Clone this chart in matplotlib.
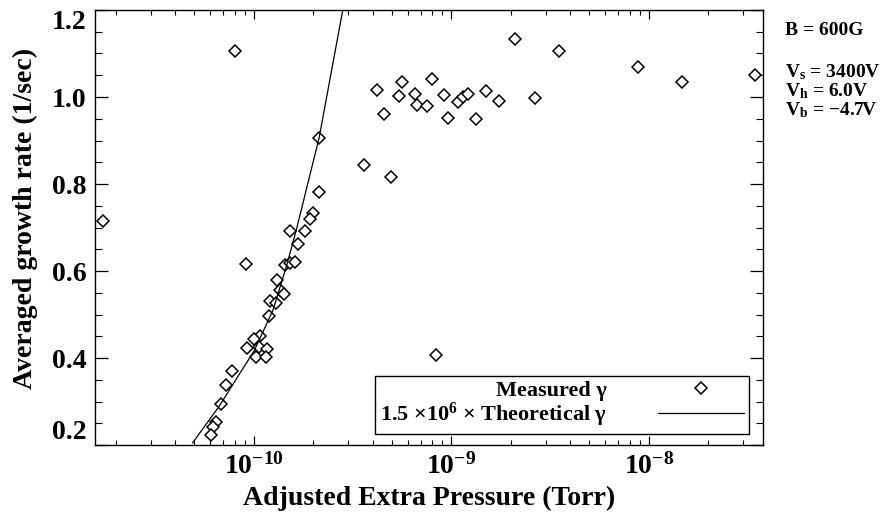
import numpy as np
import matplotlib
matplotlib.use("Agg")
import matplotlib.pyplot as plt
from matplotlib.ticker import FixedLocator, MultipleLocator, NullFormatter, FormatStrFormatter

plt.rcParams['font.family'] = ['Liberation Serif', 'DejaVu Serif']
plt.rcParams['font.weight'] = 'bold'
plt.rcParams['mathtext.fontset'] = 'custom'
plt.rcParams['mathtext.rm'] = 'Liberation Serif:bold'
plt.rcParams['mathtext.bf'] = 'Liberation Serif:bold'
plt.rcParams['mathtext.it'] = 'Liberation Serif:bold:italic'

# measured growth rate vs adjusted extra pressure
pressure = [1.73e-11, 8.02e-11, 2.14e-10, 2.14e-10, 1.995e-10, 1.92e-10, 1.52e-10,
            1.81e-10, 1.67e-10, 9.11e-11, 1.44e-10, 1.52e-10, 1.61e-10, 1.31e-10,
            1.35e-10, 1.42e-10, 1.21e-10, 1.29e-10, 1.19e-10, 1.08e-10, 1.0e-10,
            9.22e-11, 1.06e-10, 1.16e-10, 1.03e-10, 1.15e-10, 7.71e-11, 7.19e-11,
            6.79e-11, 6.46e-11, 6.22e-11, 6.04e-11, 2.11e-9, 4.21e-10, 5.62e-10,
            8.02e-10, 5.43e-10, 6.52e-10, 6.70e-10, 7.57e-10, 9.14e-10, 1.08e-9,
            1.15e-9, 1.21e-9, 1.49e-9, 1.75e-9, 2.64e-9, 4.56e-10, 9.61e-10,
            1.33e-9, 3.60e-10, 4.96e-10, 3.50e-9, 8.79e-9, 1.47e-8, 3.45e-8, 8.34e-10]
growth = [0.716, 1.106, 0.906, 0.781, 0.733, 0.719, 0.693,
          0.691, 0.662, 0.616, 0.614, 0.618, 0.621, 0.579,
          0.556, 0.546, 0.532, 0.526, 0.497, 0.451, 0.443,
          0.422, 0.426, 0.420, 0.403, 0.402, 0.369, 0.339,
          0.294, 0.253, 0.242, 0.223, 1.133, 1.016, 1.034,
          1.041, 1.003, 1.006, 0.982, 0.980, 1.005, 0.989,
          1.001, 1.007, 1.014, 0.991, 0.998, 0.962, 0.952,
          0.949, 0.844, 0.817, 1.106, 1.070, 1.034, 1.051, 0.407]

# scaled theoretical curve
theory_p = [4.9e-11, 6.7e-11, 8.5e-11, 1.0e-10, 1.25e-10, 1.46e-10, 1.64e-10, 2.14e-10, 2.9e-10]
theory_g = [0.205, 0.29, 0.365, 0.415, 0.51, 0.61, 0.694, 0.906, 1.23]

xticks = [1e-10, 1e-9, 1e-8]
yticks = [0.2, 0.4, 0.6, 0.8, 1.0, 1.2]

fig = plt.figure(figsize=(8.86, 5.18), dpi=100)
ax = fig.add_axes([0.1072, 0.1409, 0.7540, 0.8398])

ax.plot(pressure, growth, linestyle='none', marker='D', ms=6.2, mfc='white',
        mec='black', mew=1.1, label='Measured γ')
ax.plot(theory_p, theory_g, color='black', lw=0.9,
        label=r'1.5 ×10$^{6}$ × Theoretical γ')

ax.set_xscale('log')
ax.set_xlim(1.57e-11, 3.78e-8)
ax.set_ylim(0.2, 1.2)

ax.set_xticks(xticks)
ax.xaxis.set_minor_formatter(NullFormatter())
ax.yaxis.set_major_locator(FixedLocator(yticks))
ax.yaxis.set_minor_locator(MultipleLocator(0.05))
ax.yaxis.set_major_formatter(FormatStrFormatter('%.1f'))

ax.tick_params(axis='both', which='both', direction='in', top=True, right=True)
ax.tick_params(axis='y', which='major', length=9.5, width=0.9, labelsize=20, pad=6)
ax.tick_params(axis='y', which='minor', length=5, width=0.8)
ax.tick_params(axis='x', which='major', length=6.5, width=0.9, labelsize=20, pad=6)
ax.tick_params(axis='x', which='minor', length=3.5, width=0.8)
for sp in ax.spines.values():
    sp.set_linewidth(1.0)

labs = ax.get_yticklabels()
labs[0].set_verticalalignment('bottom')
labs[-1].set_verticalalignment('top')

ax.set_xlabel('Adjusted Extra Pressure (Torr)', fontsize=20, fontweight='bold')
ax.set_ylabel('Averaged growth rate (1/sec)', fontsize=20, fontweight='bold')
ax.yaxis.set_label_coords(-0.085, 0.52)
ax.xaxis.set_label_coords(0.5, -0.095)

leg = ax.legend(loc='lower right', bbox_to_anchor=(0.979, 0.025), markerfirst=False,
                fontsize=16, handlelength=3.87, frameon=True, fancybox=False,
                framealpha=1, edgecolor='black', borderpad=0.22, labelspacing=0.0,
                handletextpad=2.3, borderaxespad=0)
leg.get_frame().set_linewidth(1.0)

fig.text(785 / 886, 1 - 35 / 518, 'B = 600G', fontsize=14, fontweight='bold', va='baseline')
fig.text(785 / 886, 1 - 77 / 518, r'V$_\mathregular{s}$ = 3400V', fontsize=14, fontweight='bold', va='baseline')
fig.text(785 / 886, 1 - 96 / 518, r'V$_\mathregular{h}$ = 6.0V', fontsize=14, fontweight='bold', va='baseline')
fig.text(785 / 886, 1 - 115 / 518, r'V$_\mathregular{b}$ = −4.7V', fontsize=14, fontweight='bold', va='baseline')

fig.savefig('out.png', dpi=100)
